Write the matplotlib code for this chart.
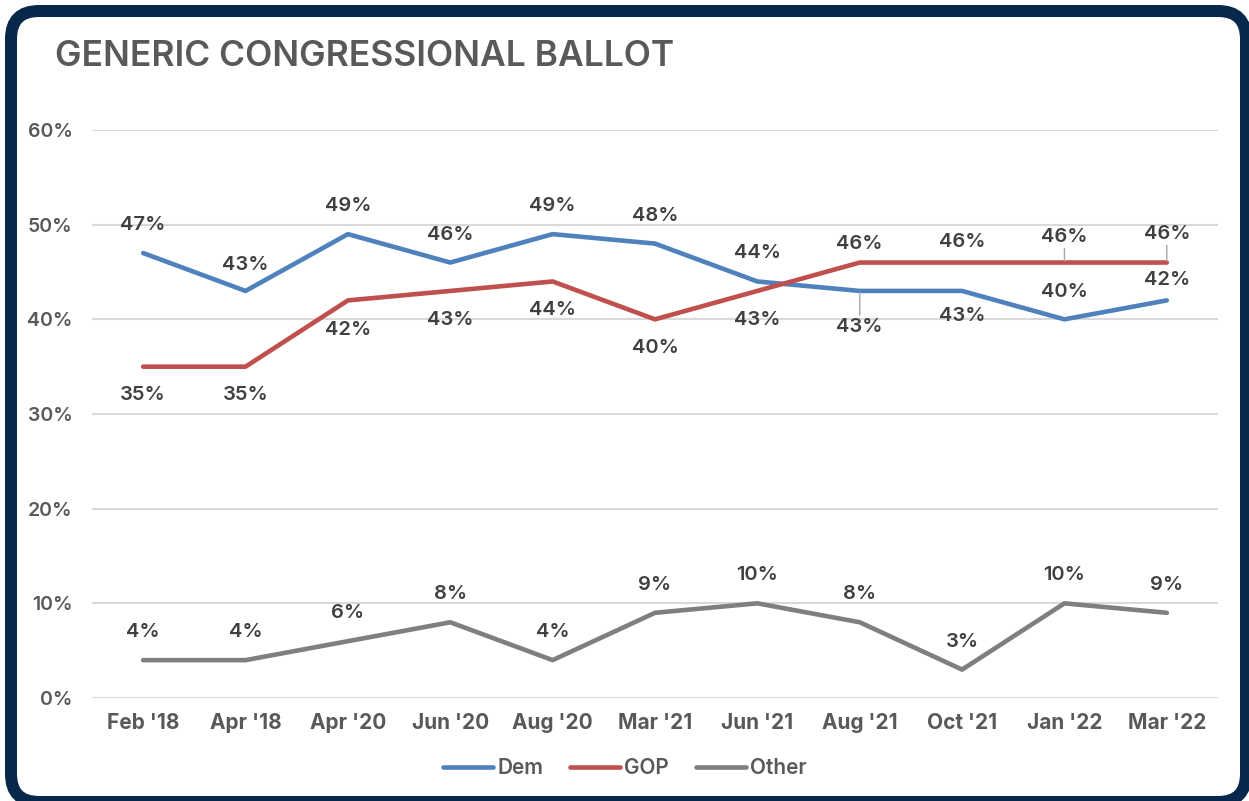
import matplotlib
matplotlib.use("Agg")
import matplotlib.pyplot as plt
from matplotlib.patches import FancyBboxPatch
from matplotlib.transforms import IdentityTransform
from matplotlib.ticker import FuncFormatter, MultipleLocator

# ---------------- data ----------------
categories = ["Feb '18", "Apr '18", "Apr '20", "Jun '20", "Aug '20", "Mar '21",
              "Jun '21", "Aug '21", "Oct '21", "Jan '22", "Mar '22"]
dem = [47, 43, 49, 46, 49, 48, 44, 43, 43, 40, 42]
gop = [35, 35, 42, 43, 44, 40, 43, 46, 46, 46, 46]
other = [4, 4, 6, 8, 4, 9, 10, 8, 3, 10, 9]
title = "GENERIC CONGRESSIONAL BALLOT"

# ---------------- style ----------------
FONT = ["Inter", "DejaVu Sans"]
plt.rcParams["font.family"] = FONT
DPI = 100
W, H = 1249, 801
C_DEM, C_GOP, C_OTH = "#4F81BD", "#C0504D", "#7F7F7F"
TXT = "#404040"
TICK = "#595959"
NAVY = "#06284A"

# label vertical offsets in pixels (+ above, - below)
dem_off = [28, 26, 28, 28, 28, 28, 28, -36, -25, 27, 20]
gop_off = [-28, -28, -30, -29, -29, -29, -29, 19, 21, 26, 29]
oth_off = [28] * 11
dem_leader = [False]*7 + [True] + [False]*3
gop_leader = [False]*9 + [True, True]

fig = plt.figure(figsize=(W / DPI, H / DPI), dpi=DPI)
fig.patch.set_facecolor("white")

ax_l, ax_r, ax_b, ax_t = 92, 1218, 698, 130
ax = fig.add_axes([ax_l / W, 1 - ax_b / H, (ax_r - ax_l) / W, (ax_b - ax_t) / H])
ax.set_facecolor("none")

x = list(range(len(categories)))
lw = 4.6 * 72 / DPI
for vals, col, name in [(dem, C_DEM, "Dem"), (gop, C_GOP, "GOP"), (other, C_OTH, "Other")]:
    ax.plot(x, vals, color=col, lw=lw, label=name, solid_capstyle="round",
            solid_joinstyle="round", zorder=3)

ax.set_xlim(-0.5, len(categories) - 0.5)
ax.set_ylim(0, 60)
ax.yaxis.set_major_locator(MultipleLocator(10))
ax.yaxis.set_major_formatter(FuncFormatter(lambda v, p: f"{v:.0f}%"))
ax.grid(axis="y", color="#D9D9D9", lw=1.5)
ax.set_axisbelow(True)
for s in ax.spines.values():
    s.set_visible(False)
ax.set_xticks(x)
ax.set_xticklabels(categories)
ax.tick_params(axis="both", length=0)
ax.tick_params(axis="y", pad=14, labelsize=14, labelcolor=TICK)
ax.tick_params(axis="x", pad=11, labelsize=15, labelcolor=TICK)
for t in ax.get_xticklabels():
    t.set_fontweight("bold")
for t in ax.get_yticklabels():
    t.set_fontweight("semibold")

px2pt = 72 / DPI
def labels(vals, offs, leaders):
    for i, (v, o, ld) in enumerate(zip(vals, offs, leaders)):
        kw = {}
        if ld:
            kw["arrowprops"] = dict(arrowstyle="-", color="#A6A6A6", lw=1,
                                    shrinkA=0, shrinkB=1)
        ax.annotate(f"{v}%", (i, v), xytext=(0, o * px2pt), textcoords="offset points",
                    ha="center", va="center", fontsize=14.5, color=TXT,
                    fontweight="semibold", zorder=4, **kw)

labels(dem, dem_off, dem_leader)
labels(gop, gop_off, gop_leader)
labels(other, oth_off, [False] * 11)

fig.text(55 / W, 1 - 56 / H, title, fontsize=25.5, color=TICK, fontweight="semibold",
         ha="left", va="center")

leg = fig.legend(loc="center", bbox_to_anchor=(625 / W, 1 - 768 / H), ncol=3,
                 frameon=False, fontsize=15, handlelength=2.4, handletextpad=0.2,
                 columnspacing=1.3)
for t in leg.get_texts():
    t.set_color(TICK)
    t.set_fontweight("semibold")

# rounded frame (drawn on top, no fill)
frame = FancyBboxPatch((11, -1), 1235, H - 11 + 1,
                       boxstyle="round,pad=0,rounding_size=28",
                       transform=IdentityTransform(), facecolor="none",
                       edgecolor=NAVY, linewidth=12 * 72 / DPI, zorder=10)
fig.patches.append(frame)
frame.set_figure(fig)

fig.savefig("out.png", dpi=DPI, facecolor="white")
